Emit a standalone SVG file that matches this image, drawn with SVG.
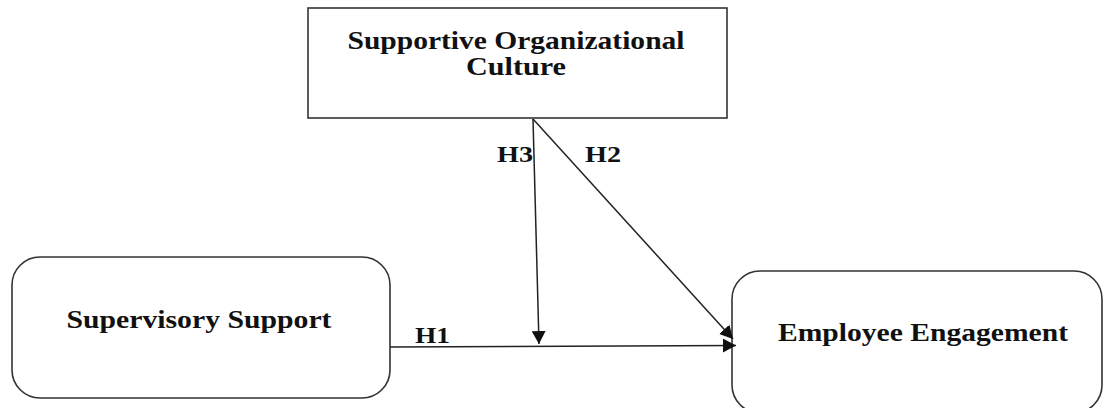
<svg xmlns="http://www.w3.org/2000/svg" width="1104" height="408" viewBox="0 0 1104 408">
<style>
.box{fill:#fff;stroke:#333;stroke-width:1.6}
.t{font-family:"Liberation Serif","Times New Roman",serif;font-weight:bold;font-size:25px;fill:#111;text-anchor:middle}
.lbl{font-family:"Liberation Serif","Times New Roman",serif;font-weight:bold;font-size:24px;fill:#111}
.c{stroke:#222;stroke-width:1.5;fill:none;marker-end:url(#ah)}
</style>
<defs>
<marker id="ah" viewBox="0 0 10 10" refX="10" refY="5" markerWidth="13" markerHeight="14" preserveAspectRatio="none" orient="auto" markerUnits="userSpaceOnUse">
<path d="M0,0 L10,5 L0,10 z" fill="#111"/>
</marker>
</defs>
<rect width="1104" height="408" fill="#fff"/>
<g id="node-culture">
<rect class="box" x="308" y="8" width="419" height="110"/>
<text class="t" x="516" y="49" textLength="337" lengthAdjust="spacingAndGlyphs">Supportive Organizational</text>
<text class="t" x="516" y="75" textLength="100" lengthAdjust="spacingAndGlyphs">Culture</text>
</g>
<g id="node-supervisory">
<rect class="box" x="12" y="257" width="378" height="141" rx="28" ry="28"/>
<text class="t" x="199" y="328" textLength="265" lengthAdjust="spacingAndGlyphs">Supervisory Support</text>
</g>
<g id="node-engagement">
<rect class="box" x="732" y="271" width="370" height="142" rx="28" ry="28"/>
<text class="t" x="923" y="341" textLength="290" lengthAdjust="spacingAndGlyphs">Employee Engagement</text>
</g>
<g id="connectors">
<line class="c" x1="533" y1="119" x2="539" y2="344"/>
<line class="c" x1="533" y1="119" x2="733" y2="339"/>
<line class="c" x1="390" y1="347" x2="736" y2="345.5"/>
<text class="lbl" x="497" y="162" textLength="36" lengthAdjust="spacingAndGlyphs">H3</text>
<text class="lbl" x="585" y="162" textLength="36" lengthAdjust="spacingAndGlyphs">H2</text>
<text class="lbl" x="415" y="343" textLength="35" lengthAdjust="spacingAndGlyphs">H1</text>
</g>
</svg>
